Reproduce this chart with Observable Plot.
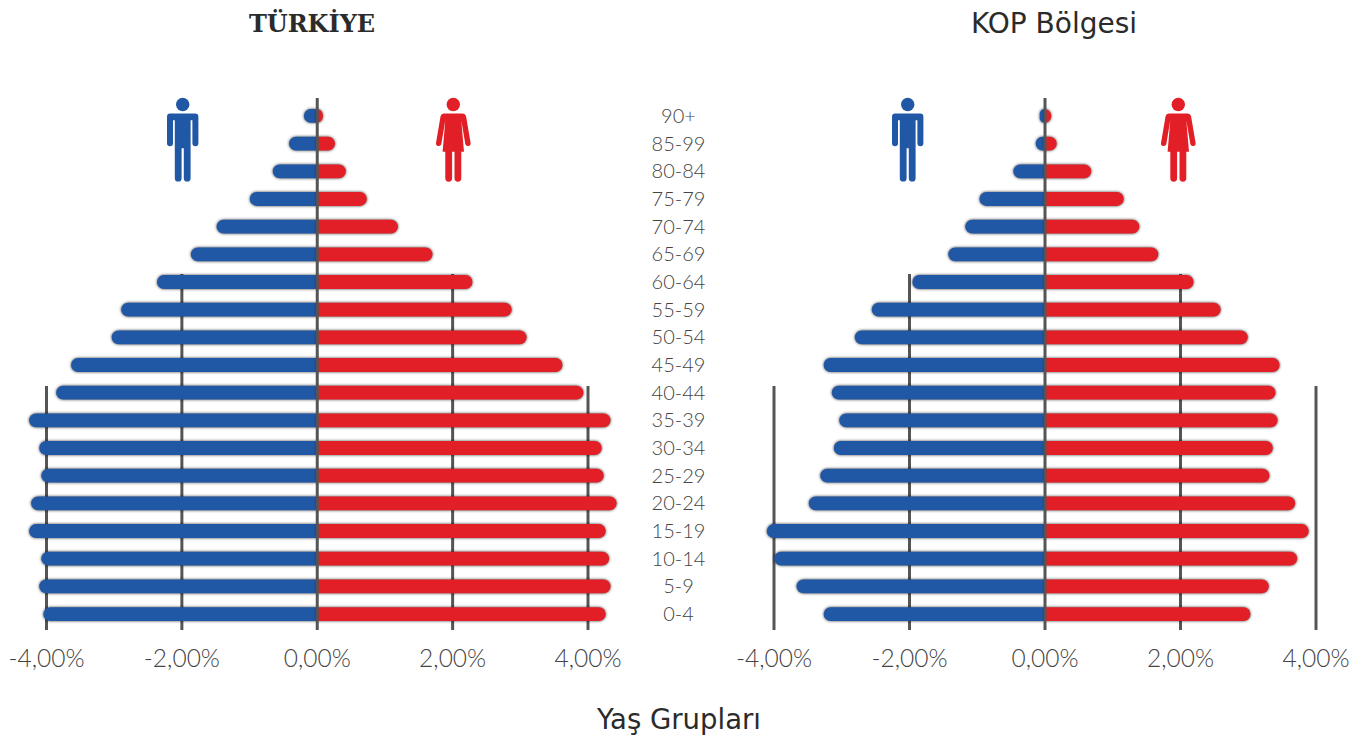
<!DOCTYPE html>
<html lang="tr">
<head>
<meta charset="utf-8">
<script src="https://cdn.jsdelivr.net/npm/d3@7"></script>
<script src="https://cdn.jsdelivr.net/npm/@observablehq/plot@0.6"></script>
<style>
html,body{margin:0;padding:0;background:#fff;width:1370px;height:736px;overflow:hidden}
#page{position:relative;width:1370px;height:736px;font-family:'DejaVu Sans',sans-serif;color:#2b2b2b}
#page>div.p{position:absolute;top:0}
#page svg{background:transparent;overflow:visible}
.t{position:absolute;text-align:center;white-space:nowrap;transform:translateX(-50%);line-height:1}
.icon{position:absolute;top:0;left:0;pointer-events:none}
</style>
</head>
<body>
<div id="page">
  <div class="p" id="left" style="left:0"></div>
  <div class="p" id="right" style="left:700px"></div>
  <div class="t" style="left:312px;top:12px;font-size:24px;font-weight:700;font-family:'DejaVu Serif',serif;">TÜRKİYE</div>
  <div class="t" style="left:1054px;top:10px;font-size:28px;">KOP Bölgesi</div>
  <div class="t" style="left:679px;top:706px;font-size:27.5px;">Yaş Grupları</div>
  <svg class="icon" width="1370" height="736" id="icons"></svg>
</div>
<script>
const ages = ["90+","85-99","80-84","75-79","70-74","65-69","60-64","55-59","50-54","45-49","40-44","35-39","30-34","25-29","20-24","15-19","10-14","5-9","0-4"];
const turkiyeErkek = [-0.19,-0.41,-0.65,-0.99,-1.48,-1.86,-2.36,-2.89,-3.03,-3.63,-3.85,-4.25,-4.10,-4.07,-4.22,-4.25,-4.07,-4.10,-4.04];
const turkiyeKadin = [0.09,0.27,0.43,0.74,1.20,1.71,2.30,2.88,3.10,3.63,3.94,4.34,4.21,4.24,4.43,4.27,4.32,4.34,4.27];
const kopErkek = [-0.07,-0.13,-0.46,-0.96,-1.17,-1.42,-1.95,-2.55,-2.80,-3.26,-3.14,-3.03,-3.11,-3.31,-3.48,-4.10,-3.99,-3.66,-3.26];
const kopKadin = [0.10,0.18,0.69,1.17,1.40,1.68,2.20,2.60,3.00,3.47,3.41,3.44,3.37,3.32,3.70,3.90,3.73,3.31,3.04];
const xTicks = [-4,-2,0,2,4];
const BLUE = "#2158a6", RED = "#e21f26", GRID = "#555";
const fmt = d => d.toFixed(2).replace(".", ",") + "%";
const shadow = "drop-shadow(0 0 1.5px rgba(0,0,0,.75))";

function pyramid(male, female, o) {
  const rows = ages.map((a,i)=>({age:a, m:male[i], f:female[i]}));
  const marks = [
    Plot.ruleX([-4,4],{stroke:GRID,strokeWidth:3,insetTop:386-o.top}),
    Plot.ruleX([-2,2],{stroke:GRID,strokeWidth:3,insetTop:274-o.top}),
    Plot.barX(rows,{y:"age",x1:"m",x2:0,fill:BLUE,rx1:7,imageFilter:shadow}),
    Plot.barX(rows,{y:"age",x1:0,x2:"f",fill:RED,rx2:7,imageFilter:shadow}),
    Plot.ruleX([0],{stroke:GRID,strokeWidth:3}),
    Plot.axisX({ticks:xTicks,tickFormat:fmt,tickSize:0,tickPadding:o.xPad,fontSize:24.5,fontWeight:300,fill:"#444",label:null})
  ];
  if (o.labels) marks.push(Plot.axisY({anchor:"right",tickSize:0,tickPadding:90.5,textAnchor:"middle",fontSize:20,fontWeight:300,fill:"#444",label:null}));
  return Plot.plot({
    width:o.width,height:736,marginTop:o.top,marginBottom:106,marginLeft:o.ml,marginRight:o.mr,
    style:{fontFamily:"Lato,sans-serif",background:"transparent"},
    x:{domain:[-4,4]},
    y:{type:"band",domain:ages,padding:0.5,round:false,range:[95.2,634.8],label:null,axis:null},
    marks
  });
}
document.getElementById("left").append(pyramid(turkiyeErkek,turkiyeKadin,{width:720,top:98,ml:46,mr:132.5,labels:true,xPad:19}));
document.getElementById("right").append(pyramid(kopErkek,kopKadin,{width:670,top:98,ml:73.5,mr:54.5,labels:false,xPad:19}));

// pictograms
const man = `<g fill="${BLUE}"><circle cx="0" cy="6.5" r="6.7"/>
<path d="M-12.5 15.5h25a3.2 3.2 0 0 1 3.2 3.2v26.5a3 3 0 0 1-6 0v-23h-1.8v58a3.4 3.4 0 0 1-6.8 0v-30h-2.2v30a3.4 3.4 0 0 1-6.8 0v-58h-1.8v23a3 3 0 0 1-6 0v-26.5a3.2 3.2 0 0 1 3.2-3.2z"/></g>`;
const woman = `<g fill="${RED}"><circle cx="0" cy="6.5" r="6.7"/>
<path d="M-9 15.5L9 15.5Q12 15.5 12.8 18.5L17.3 45a2.7 2.7 0 0 1-5.3 1L8 22.5L10.7 53.7L8 53.7L8 80.3a3.4 3.4 0 0 1-6.8 0L1.2 53.7L-1.2 53.7L-1.2 80.3a3.4 3.4 0 0 1-6.8 0L-8 53.7L-10.7 53.7L-8 22.5L-12 46a2.7 2.7 0 0 1-5.3-1L-12.8 18.5Q-12 15.5-9 15.5Z"/></g>`;
document.getElementById("icons").innerHTML = [[182.7,man],[453.3,woman],[907.7,man],[1178.3,woman]]
  .map(([x,s])=>`<g transform="translate(${x},98)">${s}</g>`).join("");
</script>
</body>
</html>
